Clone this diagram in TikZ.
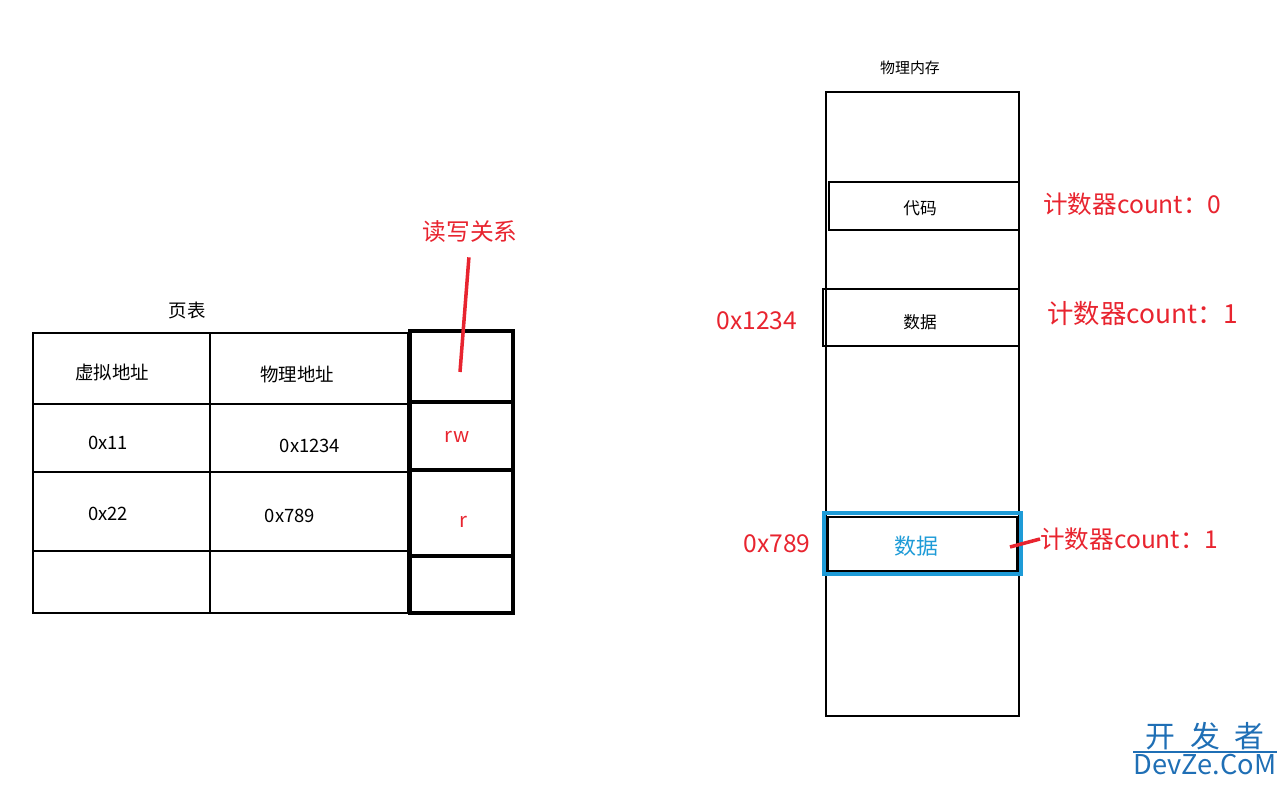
\documentclass[tikz,border=0pt]{standalone}
\usepackage{fontspec}
\setmainfont{Noto Sans CJK SC}
\usetikzlibrary{positioning}
\definecolor{notered}{HTML}{E8242F}
\definecolor{markblue}{HTML}{1E9BD7}
\definecolor{siteblue}{HTML}{1F6FB5}
\tikzset{
  cell/.style={draw, line width=1.7pt},
  flagcell/.style={draw, line width=2.3pt},
  mem/.style={draw, line width=1.6pt},
  celltext/.style={font=\fontsize{10.5}{12}\selectfont, inner sep=0pt},
  redtext/.style={text=notered, font=\fontsize{14}{16}\selectfont, inner sep=0pt},
  redline/.style={draw=notered, line width=2pt},
}
\begin{document}
\begin{tikzpicture}[x=0.02cm, y=-0.02cm]
\useasboundingbox (0,0) rectangle (1288,786);
% Page table
\node[celltext] (pttitle) at (187,311) {页表};
\draw[cell] (33,333) rectangle (408,613);
\draw[cell] (210,333) -- (210,613);
\foreach \y in {404,472,551}
  \draw[cell] (33,\y) -- (408,\y);
\node[celltext] (vaddr) at (112,372) {虚拟地址};
\node[celltext] (paddr) at (297,374) {物理地址};
\node[celltext] (va1) at (108,443) {0x11};
\node[celltext] (pa1) at (310,446) {0x1234};
\node[celltext] (va2) at (108,514) {0x22};
\node[celltext] (pa2) at (290,516) {0x789};
% Access column
\draw[flagcell] (410,331) rectangle (513,613);
\foreach \y in {402,470,556}
  \draw[flagcell] (410,\y) -- (513,\y);
\node[celltext, text=notered, font=\fontsize{11.5}{13}\selectfont] (rw) at (457,437) {rw};
\node[celltext, text=notered, font=\fontsize{11.5}{13}\selectfont] (ro) at (463,522) {r};
\node[redtext, font=\fontsize{13.5}{15}\selectfont] (rwrel) at (470,232) {读写关系};
\coordinate (rwtip) at (460,372);
\draw[redline, shorten <=8pt] (rwrel.south) -- (rwtip);
% Physical memory
\node[celltext, font=\fontsize{8.5}{10}\selectfont] (memtitle) at (910,68) {物理内存};
\draw[mem] (826,92) rectangle (1019,716);
\draw[mem] (829,182) rectangle (1019,230);
\draw[mem] (823,289) rectangle (1019,346);
\draw[draw=markblue, line width=2.8pt] (824,513) rectangle (1021,574);
\draw[mem] (828,517) rectangle (1017,571);
\node[celltext, font=\fontsize{9.5}{11}\selectfont] (code) at (920,208) {代码};
\node[celltext, font=\fontsize{9.5}{11}\selectfont] (data1) at (920,322) {数据};
\node[celltext, text=markblue, font=\fontsize{12.5}{14}\selectfont] (data2) at (916,546) {数据};
\node[redtext] (addr1) at (757,321) {0x1234};
\node[redtext] (addr2) at (777,544) {0x789};
\node[redtext, anchor=west] (cnt0) at (1043,204) {计数器count：0};
\node[redtext, anchor=west, font=\fontsize{15}{17}\selectfont] (cnt1) at (1047,314) {计数器count：1};
\node[redtext, anchor=west] (cnt2) at (1040,539) {计数器count：1};
\coordinate (hit) at (1010,547);
\draw[redline] (hit) -- (cnt2.west);
% Watermark
\node[text=siteblue, font=\fontsize{17}{19}\selectfont, inner sep=0pt] (wmcn) at (1205,736) {开\,\,\,发\,\,\,者};
\draw[siteblue, line width=0.6pt] (1133,752) -- (1277,752);
\node[text=siteblue, font=\fontsize{15.5}{17}\selectfont, inner sep=0pt] (wmen) at (1205,765) {DevZe.CoM};
\end{tikzpicture}
\end{document}
